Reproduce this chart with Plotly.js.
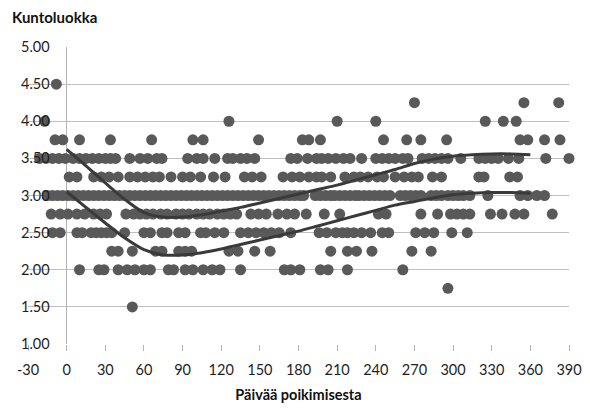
<!DOCTYPE html>
<html>
<head>
<meta charset="utf-8">
<script src="https://cdn.plot.ly/plotly-3.0.1.min.js"></script>
<style>html,body{margin:0;padding:0;background:#fff;}#chart{width:590px;height:410px;}</style>
</head>
<body>
<div id="chart"></div>
<script>
// Observations: days after calving, grouped by condition score level
var L450 = [-8];
var L425 = [270, 355, 382];
var L400 = [-17, 126, 210, 240, 325, 339, 349];
var L375 = [-9, -3, 10, 34, 66, 98, 106, 149, 183, 188, 197, 246, 264, 275, 295, 352, 358, 371, 383];
var L350 = [-21, -16, -11, -6, -1, 5, 10, 15, 20, 25, 30, 34, 38, 49, 57, 63, 70, 74, 94, 101, 106, 115, 125, 129, 135, 140, 146, 174, 179, 187, 194, 198, 203, 209, 215, 220, 229, 240, 245, 250, 255, 261, 265, 276, 281, 286, 291, 296, 306, 320, 325, 330, 335, 343, 351, 372, 390];
var L325 = [2, 8, 21, 27, 33, 40, 49, 55, 61, 67, 72, 81, 90, 96, 104, 114, 123, 138, 144, 151, 168, 175, 181, 188, 194, 198, 205, 216, 223, 228, 234, 241, 246, 255, 262, 268, 273, 284, 291, 320, 324, 344, 350];
var L300 = [-15, -11, -7, -3, 1, 5, 9, 13, 17, 21, 25, 29, 33, 37, 41, 45, 49, 53, 57, 61, 65, 69, 73, 77, 81, 85, 89, 93, 97, 101, 105, 109, 113, 117, 121, 125, 129, 133, 137, 141, 145, 149, 153, 157, 161, 165, 169, 173, 177, 181, 184, 193, 197, 201, 205, 208, 212, 216, 220, 224, 227, 231, 235, 239, 243, 247, 251, 259, 263, 267, 271, 275, 283, 287, 291, 296, 300, 304, 308, 313, 327, 352, 358, 365, 371];
var L275 = [-12, -5, 1, 8, 14, 21, 26, 31, 46, 52, 57, 62, 67, 73, 78, 85, 90, 95, 101, 106, 111, 117, 122, 127, 132, 143, 149, 155, 164, 171, 177, 186, 200, 212, 242, 248, 275, 288, 298, 303, 308, 313, 329, 338, 348, 355, 377];
var L250 = [-11, -5, 8, 12, 19, 23, 27, 31, 35, 45, 60, 65, 74, 78, 87, 92, 104, 108, 115, 122, 135, 141, 147, 153, 159, 165, 174, 196, 202, 209, 214, 218, 223, 229, 236, 245, 250, 271, 278, 285, 299, 311];
var L225 = [35, 40, 51, 69, 74, 87, 92, 97, 126, 133, 146, 158, 205, 218, 225, 237, 268, 283];
var L200 = [10, 25, 29, 40, 47, 53, 60, 65, 79, 83, 92, 98, 106, 113, 119, 135, 169, 174, 181, 197, 203, 218, 261];
var L175 = [296];
var L150 = [51];

var levels = [4.50, 4.25, 4.00, 3.75, 3.50, 3.25, 3.00, 2.75, 2.50, 2.25, 2.00, 1.75, 1.50];
var levelDays = [L450, L425, L400, L375, L350, L325, L300, L275, L250, L225, L200, L175, L150];

// Trend curves
var curveDays = [0, 15, 30, 45, 60, 75, 90, 105, 120, 135, 150, 165, 180, 195, 210, 225, 240, 255, 270, 285, 300, 315, 330, 345, 360];
var upperVals = [3.62, 3.40, 3.17, 2.95, 2.77, 2.71, 2.71, 2.74, 2.79, 2.84, 2.90, 2.96, 3.02, 3.08, 3.14, 3.21, 3.28, 3.35, 3.43, 3.49, 3.53, 3.55, 3.56, 3.56, 3.55];
var lowerVals = [3.05, 2.84, 2.63, 2.43, 2.27, 2.20, 2.20, 2.23, 2.28, 2.34, 2.40, 2.46, 2.52, 2.59, 2.66, 2.73, 2.80, 2.87, 2.92, 2.97, 3.01, 3.03, 3.04, 3.04, 3.03];

var xTickVals = [-30, 0, 30, 60, 90, 120, 150, 180, 210, 240, 270, 300, 330, 360, 390];
var xTickText = ['-30', '0', '30', '60', '90', '120', '150', '180', '210', '240', '270', '300', '330', '360', '390'];
var yTickVals = [1, 1.5, 2, 2.5, 3, 3.5, 4, 4.5, 5];
var yTickText = ['1.00', '1.50', '2.00', '2.50', '3.00', '3.50', '4.00', '4.50', '5.00'];

var px = [], py = [];
levels.forEach(function (lv, i) {
  levelDays[i].forEach(function (d) { px.push(d); py.push(lv); });
});

var FONT = 'Lato, "Open Sans", sans-serif';
var traces = [
  {type: 'scatter', mode: 'markers', x: px, y: py,
   marker: {size: 11, color: '#595959', line: {width: 0}}, hoverinfo: 'skip', cliponaxis: false},
  {type: 'scatter', mode: 'lines', x: curveDays, y: upperVals, yaxis: 'y2',
   line: {color: '#3a3a3a', width: 3, shape: 'spline', smoothing: 0.8}, hoverinfo: 'skip'},
  {type: 'scatter', mode: 'lines', x: curveDays, y: lowerVals, yaxis: 'y2',
   line: {color: '#3a3a3a', width: 3, shape: 'spline', smoothing: 0.8}, hoverinfo: 'skip'}
];

var layout = {
  width: 590, height: 410,
  margin: {l: 28, r: 21, t: 47, b: 66, pad: 0},
  paper_bgcolor: '#fff', plot_bgcolor: '#fff',
  showlegend: false,
  font: {family: FONT, color: '#1e1e1e'},
  title: {text: '<b>Kuntoluokka</b>', font: {family: FONT, size: 15, color: '#111'},
          x: 12 / 590, xref: 'container', xanchor: 'left',
          y: 1 - 18 / 410, yref: 'container', yanchor: 'middle'},
  xaxis: {range: [-30, 390], tickmode: 'array', tickvals: xTickVals, ticktext: xTickText,
          showgrid: false, zeroline: true, zerolinecolor: '#b4b4b4', zerolinewidth: 1,
          showline: false, ticks: 'outside', ticklen: 6, tickcolor: '#b4b4b4', tickwidth: 1,
          ticklabelstandoff: 7,
          tickfont: {family: FONT, size: 14.5, color: '#1e1e1e'},
          title: {text: '<b>Päivää poikimisesta</b>', font: {family: FONT, size: 14.5, color: '#111'}, standoff: 12},
          fixedrange: true},
  yaxis: {range: [1, 5], tickmode: 'array', tickvals: yTickVals, showticklabels: false,
          showgrid: true, gridcolor: '#bfbfbf', gridwidth: 1, zeroline: false, showline: false, ticks: '',
          fixedrange: true},
  yaxis2: {overlaying: 'y', anchor: 'free', position: 0.04, side: 'left',
           range: [1, 5], tickmode: 'array', tickvals: yTickVals, ticktext: yTickText,
           showgrid: false, zeroline: false, showline: false, ticks: '',
           tickfont: {family: FONT, size: 14.5, color: '#1e1e1e'}, fixedrange: true},
  shapes: [
    {type: 'rect', layer: 'between', xref: 'x', yref: 'paper', x0: -30, x1: -14.6, y0: -0.01, y1: 1.01,
     fillcolor: '#ffffff', line: {width: 0}}
  ]
};

Plotly.newPlot('chart', traces, layout, {staticPlot: true, displayModeBar: false});
</script>
</body>
</html>
